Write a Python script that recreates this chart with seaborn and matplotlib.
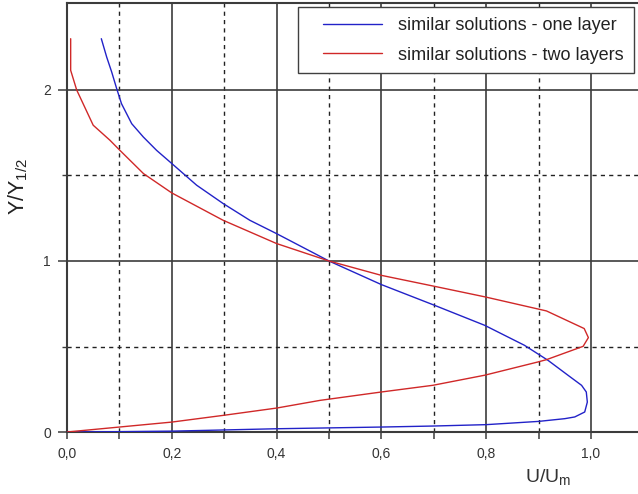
import numpy as np
import pandas as pd
import matplotlib
matplotlib.use("Agg")
import matplotlib.pyplot as plt
from matplotlib.ticker import FixedLocator, FixedFormatter
from matplotlib.legend_handler import HandlerLine2D
import seaborn as sns

# Velocity profiles: U/Um against Y/Y1/2
one_layer_u = [0.0, 0.1, 0.2, 0.3, 0.4, 0.5, 0.6, 0.7, 0.8, 0.9, 0.95, 0.969,
               0.988, 0.993, 0.991, 0.982, 0.956, 0.918, 0.873, 0.797, 0.698,
               0.600, 0.5, 0.4, 0.349, 0.298, 0.2475, 0.2, 0.171, 0.1457,
               0.1235, 0.104, 0.0948, 0.0853, 0.0757, 0.0655]
one_layer_y = [0.0, 0.002, 0.005, 0.012, 0.019, 0.024, 0.029, 0.035, 0.043,
               0.062, 0.078, 0.088, 0.117, 0.175, 0.234, 0.273, 0.332, 0.419,
               0.507, 0.624, 0.745, 0.862, 1.0, 1.16, 1.238, 1.336, 1.443,
               1.57, 1.647, 1.725, 1.803, 1.920, 2.008, 2.105, 2.193, 2.30]

two_layer_u = [0.0, 0.1, 0.2, 0.3, 0.4, 0.483, 0.6, 0.698, 0.797, 0.898,
               0.915, 0.985, 0.995, 0.987, 0.915, 0.798, 0.698, 0.6, 0.5,
               0.4, 0.298, 0.2, 0.146, 0.101, 0.082, 0.05, 0.0185, 0.007, 0.007]
two_layer_y = [0.0, 0.029, 0.058, 0.098, 0.14, 0.185, 0.234, 0.273, 0.332,
               0.409, 0.423, 0.501, 0.552, 0.605, 0.708, 0.79, 0.854, 0.916,
               1.0, 1.102, 1.238, 1.398, 1.511, 1.647, 1.706, 1.794, 2.0,
               2.115, 2.30]

series_names = ["similar solutions - one layer", "similar solutions - two layers"]
series_colors = ["#2222c8", "#d02828"]

x_ticks = [0.0, 0.2, 0.4, 0.6, 0.8, 1.0]
x_tick_labels = ["0,0", "0,2", "0,4", "0,6", "0,8", "1,0"]
x_minor_ticks = [0.1, 0.3, 0.5, 0.7, 0.9]
y_ticks = [0, 1, 2]
y_tick_labels = ["0", "1", "2"]
y_minor_ticks = [0.5, 1.5]

sns.set_style("white")
plt.rcParams["font.family"] = ["Liberation Sans", "DejaVu Sans"]
plt.rcParams["mathtext.default"] = "regular"

df = pd.concat([
    pd.DataFrame({"u": one_layer_u, "y": one_layer_y, "series": series_names[0]}),
    pd.DataFrame({"u": two_layer_u, "y": two_layer_y, "series": series_names[1]}),
], ignore_index=True)

W, H = 638, 494
fig = plt.figure(figsize=(W / 100, H / 100), dpi=100)

# axes geometry in pixels
x0_px, ybot_px, ytop_px = 67, 432, 3
px_per_unit_x = 52.4 * 10
xmax = 1.12
ymax = (ybot_px - ytop_px) / 171.0
ax = fig.add_axes([x0_px / W, (H - ybot_px) / H,
                   xmax * px_per_unit_x / W, (ybot_px - ytop_px) / H])

sns.lineplot(data=df, x="u", y="y", hue="series", palette=series_colors,
             sort=False, estimator=None, linewidth=1.0, ax=ax, zorder=3)

ax.set_xlim(0, xmax)
ax.set_ylim(0, ymax)

grid_col = "#3c3c3c"
ax.xaxis.set_major_locator(FixedLocator(x_ticks))
ax.xaxis.set_major_formatter(FixedFormatter(x_tick_labels))
ax.xaxis.set_minor_locator(FixedLocator(x_minor_ticks))
ax.yaxis.set_major_locator(FixedLocator(y_ticks))
ax.yaxis.set_major_formatter(FixedFormatter(y_tick_labels))
ax.yaxis.set_minor_locator(FixedLocator(y_minor_ticks))

ax.grid(which="major", color=grid_col, linewidth=1.2, linestyle="-")
ax.grid(which="minor", color="#222222", linewidth=1.0, linestyle=(0, (3, 3)))
ax.set_axisbelow(True)

for side in ("left", "bottom", "top"):
    ax.spines[side].set_color(grid_col)
    ax.spines[side].set_linewidth(1.5)
ax.spines["right"].set_visible(False)

ax.tick_params(axis="x", which="both", direction="out", length=5, width=1.1,
               color=grid_col, labelsize=10, labelcolor="#333333", pad=6,
               bottom=True, top=False)
ax.tick_params(axis="y", which="major", direction="out", length=6.5, width=1.1,
               color=grid_col, labelsize=10, labelcolor="#333333", pad=5, left=True)
ax.tick_params(axis="y", which="minor", direction="out", length=3.5, width=1.0,
               color=grid_col, left=True)

axes_w_px = xmax * px_per_unit_x
axes_h_px = ybot_px - ytop_px
ax.set_xlabel(r"U/U$_m$", fontsize=14, color="#333333")
ax.xaxis.set_label_coords((548 - x0_px) / axes_w_px, (ybot_px - 467) / axes_h_px)
ax.set_ylabel(r"Y/Y$_{1/2}$", fontsize=15.5, color="#222222")
ax.yaxis.set_label_coords((30 - x0_px) / axes_w_px, (ybot_px - 186) / axes_h_px)


class InsetLine(HandlerLine2D):
    """Legend line that leaves a gap at the left of its handle box."""
    def get_xdata(self, legend, xdescent, ydescent, width, height, fontsize):
        xdata = np.array([-xdescent + 0.2 * width, -xdescent + width])
        return xdata, xdata


handles, labels = ax.get_legend_handles_labels()
leg = ax.legend(handles, labels, loc="upper right",
                bbox_to_anchor=(634 / W, 1 - 7 / H), bbox_transform=fig.transFigure,
                borderaxespad=0, fontsize=13, frameon=True, fancybox=False,
                framealpha=1, edgecolor="#404040", borderpad=0.55,
                labelspacing=0.7, handlelength=4.1, handletextpad=0.89,
                handler_map={h: InsetLine() for h in handles})
leg.get_frame().set_linewidth(1.0)
for t in leg.get_texts():
    t.set_color("#222222")

fig.savefig("out.png", dpi=100)
